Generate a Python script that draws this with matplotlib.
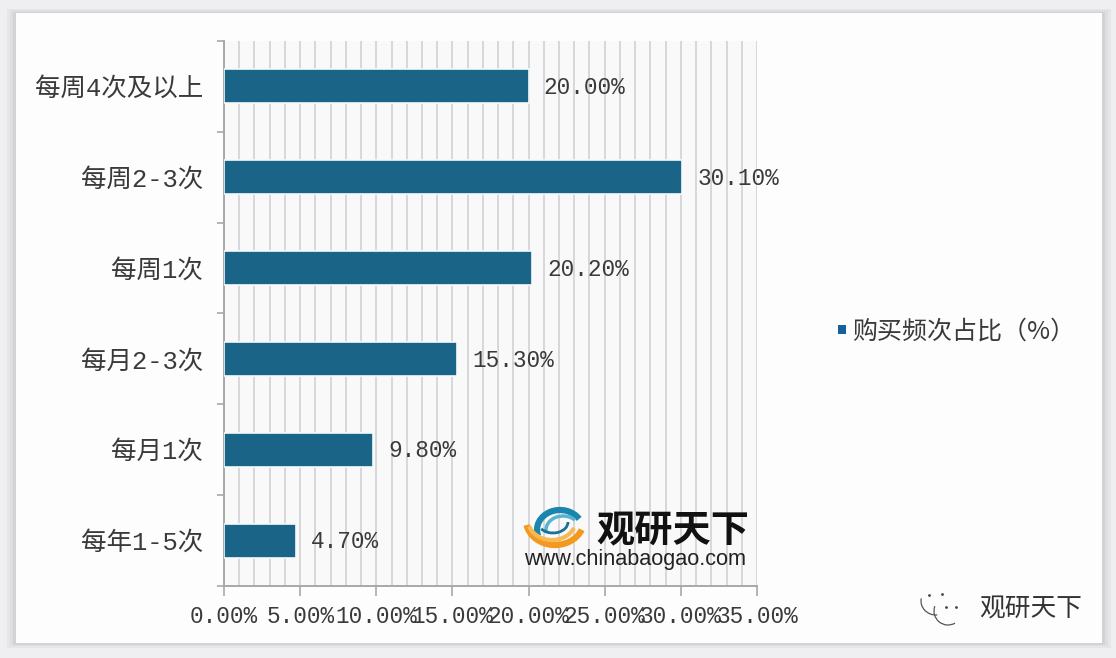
import matplotlib
matplotlib.use("Agg")
import matplotlib.pyplot as plt
from matplotlib.patches import Rectangle, Arc

W, H = 1116, 658

categories = ["每周4次及以上", "每周2-3次", "每周1次", "每月2-3次", "每月1次", "每年1-5次"]
shares = [20.0, 30.1, 20.2, 15.3, 9.8, 4.7]
x_ticks = [0, 5, 10, 15, 20, 25, 30, 35]
legend_label = "购买频次占比（%）"

BAR = "#1a6488"
GRID = "#cfcfd3"
AXIS = "#a8a8a8"
TEXT = "#3a3a3a"
fonts = ["Liberation Mono", "Noto Sans CJK SC"]
cjk = ["Noto Sans CJK SC", "DejaVu Sans"]

fig = plt.figure(figsize=(W / 100, H / 100), dpi=100, facecolor="#efeff1")

# pixel overlay for the card, logo and watermarks
bg = fig.add_axes([0, 0, 1, 1], zorder=0)
bg.set_xlim(0, W)
bg.set_ylim(H, 0)
bg.axis("off")
for off, col in [(9, "#e6e6e8"), (6, "#dededf"), (3, "#d3d3d6")]:
    bg.add_patch(Rectangle((16 - off, 13 - off / 2), 1086 + 2 * off, 630 + off, fc=col, ec="none"))
bg.add_patch(Rectangle((16, 13), 1086, 630, fc="#fdfdfe", ec="none"))

ax = fig.add_axes([224 / W, 1 - 586 / H, (757 - 224) / W, (586 - 41) / H], zorder=1)
ax.set_facecolor("#f9f9fa")
y = list(range(len(categories)))
ax.barh(y, shares, height=0.375, color=BAR, edgecolor="#f4fafc", linewidth=1.2, zorder=3)
ax.set_xlim(0, 35)
ax.set_ylim(len(categories) - 0.5, -0.5)

ax.set_xticks(x_ticks)
ax.set_xticklabels([f"{v:.2f}%" for v in x_ticks], family=fonts, fontsize=16.4, color=TEXT)
ax.set_xticks(range(0, 36), minor=True)
ax.set_yticks(y)
ax.set_yticklabels(categories, family=fonts, fontsize=18.4, color=TEXT)
ax.set_yticks([i - 0.5 for i in range(len(categories) + 1)], minor=True)
ax.tick_params(axis="y", which="major", length=0, pad=15)
ax.tick_params(axis="y", which="minor", length=5, color=AXIS, width=1.2)
ax.tick_params(axis="x", which="major", length=7, color=AXIS, width=1.2, pad=7)
ax.tick_params(axis="x", which="minor", length=0)
ax.grid(axis="x", which="both", color=GRID, linewidth=1.1, zorder=1)
ax.set_axisbelow(True)
for side in ["top", "right"]:
    ax.spines[side].set_visible(False)
for side in ["left", "bottom"]:
    ax.spines[side].set_color(AXIS)
    ax.spines[side].set_linewidth(1.4)

for pos, v in zip(y, shares):
    ax.annotate(f"{v:.2f}%", (v, pos), xytext=(11, -0.8), textcoords="offset points",
                va="center", family=fonts, fontsize=16.4, color=TEXT, zorder=4)

# legend
over = fig.add_axes([0, 0, 1, 1], zorder=2)
over.set_xlim(0, W)
over.set_ylim(H, 0)
over.axis("off")
over.add_patch(Rectangle((838, 325), 8, 9, fc="#17609a", ec="none"))
over.text(852, 332, legend_label, family=cjk, fontsize=18, color=TEXT, va="center")

# chinabaogao logo
for (cx, cy, w, h, a1, a2, col, lw) in [
    (560, 530, 46, 40, 165, 330, "#1b86ad", 4.5),
    (563, 530, 34, 28, 170, 320, "#56b4cf", 2.5),
    (555, 520, 58, 50, 20, 170, "#f39a1e", 4.5),
    (552, 520, 48, 40, 20, 165, "#f7b955", 3),
    (553, 522, 30, 22, 0, 150, "#1b6f98", 2),
]:
    over.add_patch(Arc((cx, cy), w, h, theta1=a1, theta2=a2, color=col, lw=lw))
over.text(673, 531, "观研天下", family=cjk, fontsize=27.5, fontweight="bold", color="#111111",
          ha="center", va="center")
over.text(635, 559, "www.chinabaogao.com", family="Liberation Sans", fontsize=15.6, color="#222222",
          ha="center", va="center")

# wechat watermark
for (cx, cy, w, h, a1, a2) in [(948, 611, 28, 28, 60, 200), (936, 601, 30, 28, 85, 190)]:
    over.add_patch(Arc((cx, cy), w, h, theta1=a1, theta2=a2, color="#555555", lw=0.9))
over.scatter([929, 942, 946, 956], [595, 594, 607, 607], s=4, color="#444444", linewidths=0)
over.text(1031, 610, "观研天下", family=cjk, fontsize=18.5, color="#333333", ha="center", va="center")

fig.savefig("out.png", dpi=100)
